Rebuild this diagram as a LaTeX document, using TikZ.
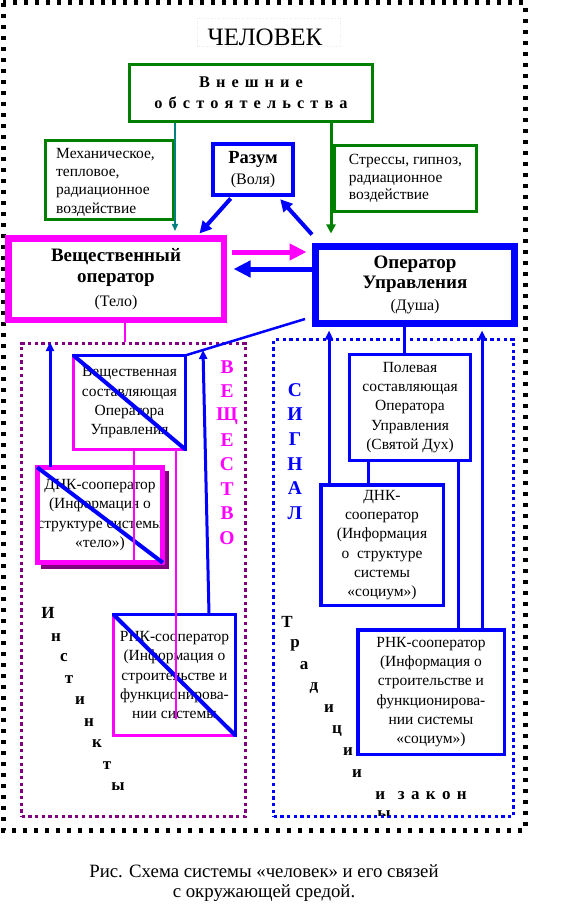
\documentclass[tikz,border=0pt]{standalone}
\usepackage{fontspec}
\setmainfont{Liberation Serif}
\newfontfamily\spread[WordSpace=1.5]{Liberation Serif}
\usetikzlibrary{arrows.meta,calc}
\definecolor{grn}{HTML}{008000}
\definecolor{mag}{HTML}{FF00FF}
\definecolor{plum}{HTML}{800080}
\definecolor{tl}{HTML}{008080}
\newcommand\boxfont{\fontsize{15.5}{19.3}\selectfont}
\newcommand\headfont{\fontsize{19}{21}\selectfont\bfseries}
\newcommand\parfont{\fontsize{16}{19}\selectfont\mdseries}

\begin{document}
\begin{tikzpicture}[
      x=1pt, y=-1pt,
      inner sep=0pt,
      txt/.style={font=\boxfont, align=center},
      gbox/.style={draw=grn, line width=3pt},
      bbox/.style={txt, draw=blue, line width=3.5pt},
      arr/.style={blue, line width=3pt, -{Triangle[length=9pt,width=8pt]}},
      midarr/.style={blue, line width=4pt, -{Triangle[length=12pt,width=12pt]}},
      bigarr/.style={line width=5pt, -{Triangle[length=17pt,width=16pt]}},
      wire/.style={blue, line width=3pt},
      pline/.style={mag, line width=1.5pt},
      vlet/.style={font=\fontsize{19.5}{19.5}\selectfont\bfseries},
      stair/.style={font=\fontsize{17}{17}\selectfont\bfseries}
    ]
    \useasboundingbox (0,0) rectangle (570,917);
    \draw[line width=5pt, dash pattern=on 4pt off 7pt] (3,3) rectangle (525,830);

    \node (tframe) [draw=black!8, dotted, minimum width=143pt, minimum height=28pt] at (268.5,32) {};
    \node (title) [font=\fontsize{25}{25}\selectfont] at (265,37) {ЧЕЛОВЕК};

    % top row
    \node (ext) [gbox, minimum width=243pt, minimum height=57pt, align=center,
      font=\spread\fontsize{16.3}{21}\selectfont\bfseries] at (251,93)
      {В н е ш н и е\\о б с т о я т е л ь с т в а};
    \node (mech) [gbox, minimum width=128pt, minimum height=79pt] at (109.5,180) {};
    \begin{scope}
      \clip ([shift={(1.5pt,-1.5pt)}]mech.north west) rectangle ([shift={(-1.5pt,1.5pt)}]mech.south east);
      \node (mecht) [anchor=north west, align=left, font=\fontsize{15.5}{18.3}\selectfont]
        at ([shift={(12pt,-9pt)}]mech.north west) {Механическое,\\тепловое,\\радиационное\\воздействие};
    \end{scope}
    \node (stress) [gbox, minimum width=142pt, minimum height=66pt, align=left,
      font=\fontsize{15.5}{17.5}\selectfont] at (405.5,178.5)
      {Стрессы, гипноз,\\радиационное\\воздействие};
    \node (razum) [draw=blue, line width=4pt, minimum width=80pt, minimum height=51pt,
      align=center, font=\fontsize{16}{21}\selectfont] at (253,169.5)
      {{\fontsize{18.5}{21}\selectfont\bfseries Разум}\\(Воля)};

    % operators
    \node (body) [draw=mag, line width=6.5pt, minimum width=215.5pt, minimum height=81.5pt,
      align=center, font=\headfont] at (116,279) {Вещественный\\оператор\\[3pt]{\parfont (Тело)}};
    \node (soul) [draw=blue, line width=7pt, minimum width=199pt, minimum height=77pt,
      align=center, font=\fontsize{19}{20.5}\selectfont\bfseries] at (415,285)
      {Оператор\\Управления\\[1.5pt]{\parfont (Душа)}};

    % regions
    \node (matter) [draw=plum, line width=3pt, dash pattern=on 3.3pt off 3.4pt,
      minimum width=224pt, minimum height=473pt] at (133.5,580) {};
    \node (signal) [draw=blue, line width=3pt, dash pattern=on 3.3pt off 3.4pt,
      minimum width=240pt, minimum height=477pt] at (393.5,578) {};

    % left column
    \node (vs) [txt, minimum width=112pt, minimum height=94pt] at (129.5,402.5)
      {Вещественная\\составляющая\\Оператора\\Управления};
    \draw[mag, line width=3pt, line cap=rect] (vs.north west) -- (vs.south west) -- (vs.south east);
    \draw[blue, line width=3pt, line cap=rect] (vs.north west) -- (vs.north east) -- (vs.south east);
    \draw[blue, line width=4pt] (vs.north west) -- (vs.south east);

    \node (dnkb) [txt, minimum width=125pt, minimum height=95pt] at (100,515)
      {ДНК-сооператор\\(Информация о\\структуре системы\\«тело»)};
    \draw[plum, line width=5pt] ([shift={(4pt,-4pt)}]dnkb.north east) -- ([shift={(4pt,-4pt)}]dnkb.south east)
      -- ([shift={(4pt,-4pt)}]dnkb.south west);
    \draw[mag, line width=5pt] (dnkb.north west) rectangle (dnkb.south east);
    \draw[blue, line width=4pt] (dnkb.north west) -- (dnkb.south east);

    \node (rnkb) [txt, minimum width=122pt, minimum height=121pt] at (174.5,675)
      {РНК-сооператор\\(Информация о\\строительстве и\\функционирова-\\нии системы};
    \draw[mag, line width=3pt, line cap=rect] (rnkb.north west) -- (rnkb.south west) -- (rnkb.south east);
    \draw[blue, line width=3pt, line cap=rect] (rnkb.north west) -- (rnkb.north east) -- (rnkb.south east);
    \draw[blue, line width=4pt] (rnkb.north west) -- (rnkb.south east);

    % right column
    \node (field) [bbox, line width=3pt, minimum width=121pt, minimum height=106pt] at (410,407.5)
      {Полевая\\составляющая\\Оператора\\Управления\\(Святой Дух)};
    \node (dnks) [bbox, minimum width=122.5pt, minimum height=120.5pt] at (382,545)
      {ДНК-\\сооператор\\(Информация\\о\ \ структуре\\системы\\«социум»)};
    \node (rnks) [bbox, minimum width=146.5pt, minimum height=124.5pt] at (431,692)
      {РНК-сооператор\\(Информация о\\строительстве и\\функционирова-\\нии системы\\«социум»)};

    % connectors
    \draw[tl, line width=1.5pt, -{Triangle[length=7pt,width=6pt]}, shorten >=4pt]
      (mech.east |- ext.south) -- (mech.east |- body.north);
    \draw[grn, line width=3pt, -{Triangle[length=9pt,width=9pt]}, shorten >=9.5pt]
      ([xshift=-2pt]stress.west |- ext.south) -- ([xshift=-2pt]stress.west |- soul.north);
    \draw[midarr, shorten <=2pt, shorten >=2pt]
      ($(razum.south west)!0.25!(razum.south east)$) -- ($(body.north west)!0.87!(body.north east)$);
    \draw[midarr, shorten >=3pt]
      ([yshift=8.5pt]soul.north west) -- ($(razum.south west)!0.8!(razum.south east)$);
    \draw[mag, bigarr, shorten <=4.5pt, shorten >=5.5pt]
      ([yshift=27pt]body.east) -- ([yshift=27pt]body.east -| soul.west);
    \draw[blue, bigarr, shorten >=6.5pt]
      ([yshift=16pt]soul.west) -- ([yshift=16pt]soul.west -| body.east);
    \draw[pline] ([xshift=9pt]body.south) -- ([xshift=9pt]body.south |- matter.north);

    \coordinate (lend) at (305,319);
    \coordinate (vtop) at (203,350);
    \draw[wire, line width=2.5pt] (vs.north east) -- (lend);
    \draw[arr] ([xshift=-50pt]dnkb.north) -- ([xshift=-50pt]dnkb.north |- matter.north);
    \draw[arr] ([xshift=34.5pt]rnkb.north) -- (vtop);
    \draw[pline] ([xshift=4.5pt]vs.south) -- ([xshift=4.5pt]vs.south |- dnkb.south);
    \draw[pline] ([xshift=46.5pt]vs.south) -- ++(0,269);

    \draw[wire] ([xshift=-6pt]field.north) -- ([xshift=-6pt]field.north |- soul.south);
    \draw[wire] ([xshift=-42pt]field.south) -- ([xshift=-42pt]field.south |- dnks.north);
    \draw[arr, shorten >=3.5pt] ([xshift=-53pt]dnks.north) -- ([xshift=-53pt]dnks.north |- soul.south);
    \draw[wire] ([xshift=48pt]field.south) -- ([xshift=48pt]field.south |- rnks.north);
    \draw[arr, shorten >=3.5pt] ([xshift=51pt]rnks.north) -- ([xshift=51pt]rnks.north |- soul.south);

    % vertical words
    \foreach \l [count=\i] in {В,Е,Щ,Е,С,Т,В,О}
      \node (v\i) [vlet, text=mag] at (227,{342.6+24.4*\i}) {\l};
    \foreach \l [count=\i] in {С,И,Г,Н,А,Л}
      \node (s\i) [vlet, text=blue] at (295,{365.4+24.6*\i}) {\l};

    % stairs
    \foreach \x/\y/\l [count=\i] in {48/613/И,56/638/н,64/658/с,69/680/т,80/701/и,89/723/н,97/744/к,107/766/т,118/787/ы}
      \node (i\i) [stair] at (\x,\y) {\l};
    \foreach \x/\y/\l [count=\i] in {287/622/Т,295/645/р,304/666/а,314/688/д,329/709/и,337/731/ц,348/752/и,357/774/и}
      \node (t\i) [stair] at (\x,\y) {\l};
    \node (law) [font=\spread\fontsize{17}{17}\selectfont\bfseries] at (421,796) {и\ \ з а к о н};
    \begin{scope}
      \clip (360,800) rectangle (400,815);
      \node (lawend) [stair] at (384,815) {ы};
    \end{scope}

    \node (cap) [align=center, font=\fontsize{18.8}{20.5}\selectfont] at (264,883)
      {Рис. Схема системы «человек» и его связей\\с окружающей средой.};
  \end{tikzpicture}
\end{document}
